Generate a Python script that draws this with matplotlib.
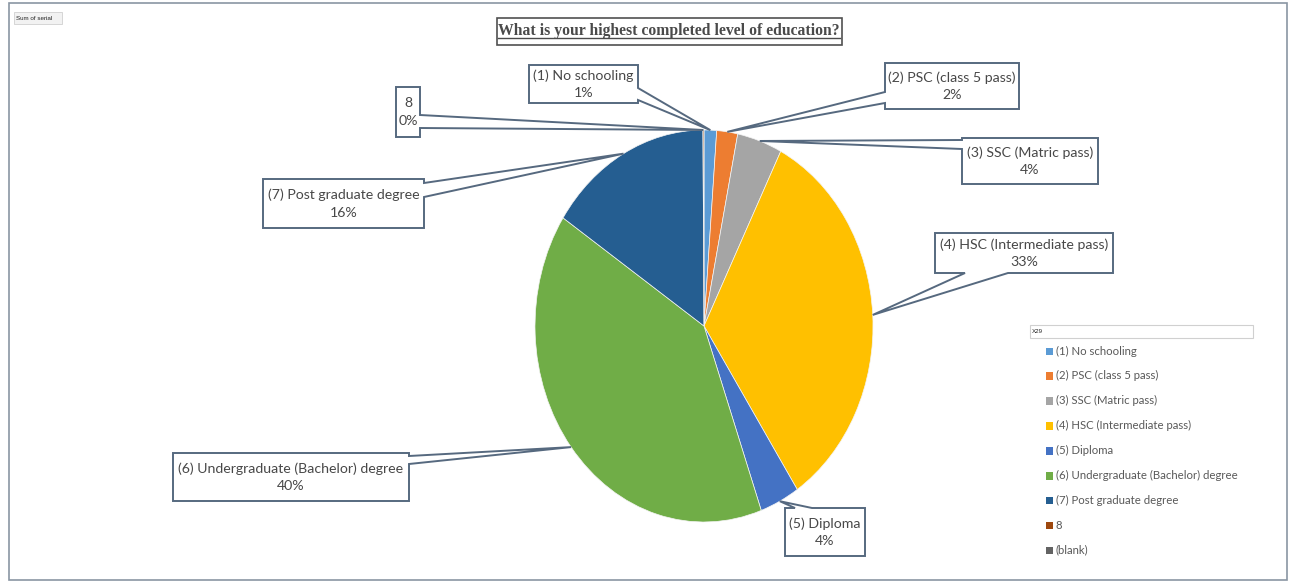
import matplotlib
matplotlib.use("Agg")
from matplotlib import pyplot as plt
from matplotlib.patches import Polygon, Rectangle
from matplotlib.lines import Line2D
import numpy as np

W, H = 1293, 583

# pie data (share of respondents, %)
labels = ['(1) No schooling', '(2) PSC (class 5 pass)', '(3) SSC (Matric pass)',
          '(4) HSC (Intermediate pass)', '(5) Diploma',
          '(6) Undergraduate (Bachelor) degree', '(7) Post graduate degree', '8']
values = [1.2, 2.0, 4.3, 33.2, 3.8, 39.8, 15.6, 0.1]
colors = ['#5B9BD5', '#ED7D31', '#A5A5A5', '#FFC000', '#4472C4',
          '#70AD47', '#255E91', '#9E480E']

legend_labels = labels + ['(blank)']
legend_colors = colors + ['#636363']

# label boxes in pixels (left, top, right, bottom), side where the pointer leaves, span on that side
boxes = {
    '(1) No schooling': ((529, 65, 638, 103), 'right', (88, 100)),
    '(2) PSC (class 5 pass)': ((885, 63, 1019, 109), 'left', (92, 103)),
    '(3) SSC (Matric pass)': ((962, 138, 1098, 184), 'left', (140, 149)),
    '(4) HSC (Intermediate pass)': ((935, 233, 1113, 273), 'bottom', (965, 1008)),
    '(5) Diploma': ((785, 508, 865, 556), 'top', (795, 812)),
    '(6) Undergraduate (Bachelor) degree': ((173, 453, 409, 501), 'right', (456, 464)),
    '(7) Post graduate degree': ((263, 179, 424, 228), 'right', (183, 197)),
    '8': ((396, 87, 420, 137), 'right', (115, 128)),
}

EDGE = '#56697f'
TXT = '#484848'
FONT = 'Lato'


def fx(x):
    return x / W


def fy(y):
    return 1 - y / H


fig = plt.figure(figsize=(W / 100, H / 100), dpi=100)
fig.patch.set_facecolor('white')

# outer chart frame
fig.add_artist(Rectangle((fx(9), fy(580)), fx(1287) - fx(9), fy(3) - fy(580),
                         transform=fig.transFigure, fill=False, edgecolor='#8a96a3', lw=1.2))

# pie drawn as an ellipse (axes aspect left free)
cx, cy, rx, ry = 704, 326, 169, 196
ax = fig.add_axes([fx(cx - rx), fy(cy + ry), fx(2 * rx), fy(cy - ry) - fy(cy + ry)])
wedges, _ = ax.pie(values, colors=colors, startangle=90, counterclock=False,
                   wedgeprops=dict(edgecolor='#f4f4f4', linewidth=0.5))
ax.set_aspect('auto')
ax.set_xlim(-1, 1)
ax.set_ylim(-1, 1)
ax.axis('off')

fig.canvas.draw()

for w, lab, val in zip(wedges, labels, values):
    mid = np.deg2rad((w.theta1 + w.theta2) / 2)
    px, py = ax.transData.transform((np.cos(mid), np.sin(mid)))
    tip = (px, H - py)
    (x0, y0, x1, y1), side, (a, b) = boxes[lab]
    pts = [(x0, y0)]
    if side == 'top':
        pts += [(a, y0), tip, (b, y0)]
    pts.append((x1, y0))
    if side == 'right':
        pts += [(x1, a), tip, (x1, b)]
    pts.append((x1, y1))
    if side == 'bottom':
        pts += [(b, y1), tip, (a, y1)]
    pts.append((x0, y1))
    if side == 'left':
        pts += [(x0, b), tip, (x0, a)]
    poly = Polygon([(fx(x), fy(y)) for x, y in pts], closed=True, transform=fig.transFigure,
                   facecolor='white', edgecolor=EDGE, lw=1.4, zorder=5)
    fig.add_artist(poly)
    fig.text(fx((x0 + x1) / 2), fy((y0 + y1) / 2), f'{lab}\n{val:.0f}%', ha='center', va='center',
             fontsize=10.2, family=FONT, color=TXT, linespacing=1.55, zorder=6)

# title with box and underline
title = fig.text(fx(669), fy(31), 'What is your highest completed level of education?',
                 ha='center', va='center', fontsize=11.3, fontweight='bold',
                 family='Liberation Serif', color='#4a4a4a')
fig.canvas.draw()
bb = title.get_window_extent().transformed(fig.transFigure.inverted())
fig.add_artist(Line2D([bb.x0, bb.x1], [bb.y0 + 0.002, bb.y0 + 0.002], transform=fig.transFigure,
                      color='#4a4a4a', lw=1.0))
fig.add_artist(Rectangle((fx(497), fy(45)), fx(842) - fx(497), fy(18) - fy(45),
                         transform=fig.transFigure, fill=False, edgecolor='#505050', lw=1.2))

# pivot field buttons
fig.add_artist(Rectangle((fx(14), fy(24)), fx(62) - fx(14), fy(12) - fy(24),
                         transform=fig.transFigure, facecolor='#f2f2f2', edgecolor='#d0d0d0', lw=0.6))
fig.text(fx(16), fy(18), 'Sum of serial', fontsize=4.5, va='center', family='Liberation Sans', color='#222222')

fig.add_artist(Rectangle((fx(1030), fy(338)), fx(1253) - fx(1030), fy(325) - fy(338),
                         transform=fig.transFigure, facecolor='white', edgecolor='#d0d0d0', lw=0.8))
fig.text(fx(1032), fy(331.5), 'X29', fontsize=4.5, va='center', family='Liberation Sans', color='#222222')

# legend
for i, (lab, col) in enumerate(zip(legend_labels, legend_colors)):
    y = 351 + i * 24.9
    fig.add_artist(Rectangle((fx(1046), fy(y + 4)), fx(7), fx(7.5) * W / H,
                             transform=fig.transFigure, facecolor=col, edgecolor='none'))
    fig.text(fx(1056), fy(y), lab, fontsize=8.2, va='center', family=FONT, color='#595959')

fig.savefig('out.png', dpi=100)
